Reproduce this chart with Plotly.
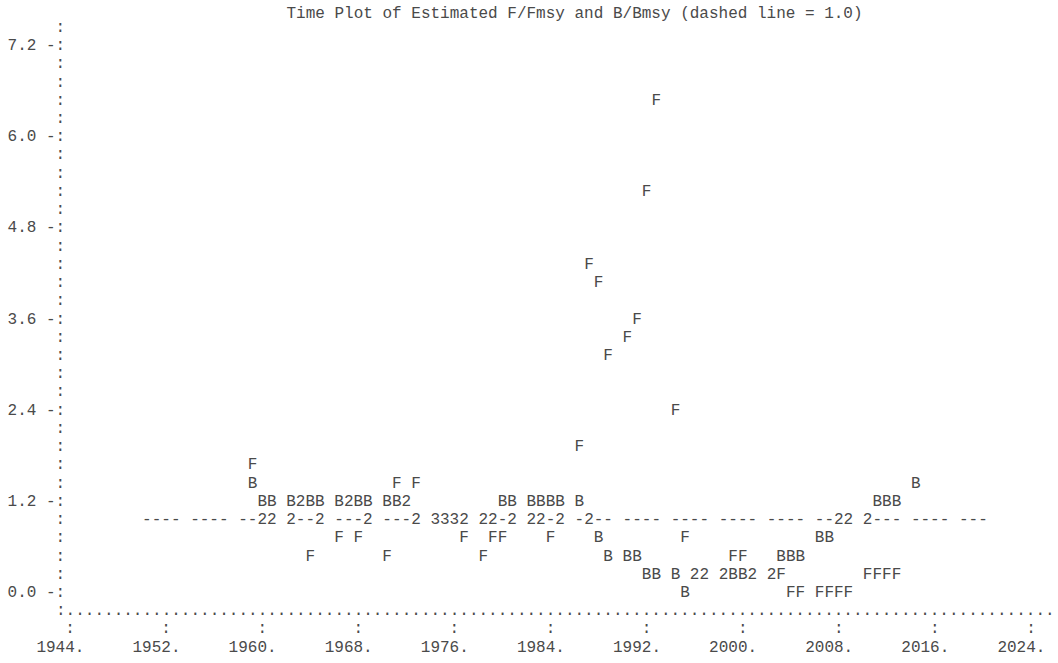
import math
import plotly.graph_objects as go

# F/Fmsy (1959-2013) and B/Bmsy (1959-2014)
f_years = list(range(1959, 2014))
f_ratio = [1.68, 0.96, 0.96, 0.96, 1.20, 0.48, 0.96, 0.72, 1.20, 0.72,
           0.96, 0.48, 1.44, 1.20, 1.44, 0.96, 0.96, 0.96, 0.72, 0.48,
           0.72, 0.72, 0.96, 0.96, 0.96, 0.72, 0.96, 1.92, 4.32, 4.08,
           3.12, 3.36, 3.60, 5.28, 6.48, 2.40, 0.72, 0.24, 0.24, 0.24,
           0.48, 0.48, 0.24, 0.24, 0.24, 0.00, 0.00, 0.00, 0.00, 0.00,
           0.00, 0.24, 0.24, 0.24, 0.24]
b_years = list(range(1959, 2015))
b_ratio = [1.44, 1.20, 1.20, 1.20, 1.20, 1.20, 1.20, 1.20, 1.20, 1.20,
           1.20, 1.20, 1.20, 1.20, 0.96, 0.96, 0.96, 0.96, 0.96, 0.96,
           0.96, 1.20, 1.20, 1.20, 1.20, 1.20, 1.20, 1.20, 0.96, 0.72,
           0.48, 0.48, 0.48, 0.24, 0.24, 0.24, 0.00, 0.24, 0.24, 0.24,
           0.24, 0.24, 0.24, 0.24, 0.48, 0.48, 0.48, 0.72, 0.72, 0.96,
           0.96, 0.96, 1.20, 1.20, 1.20, 1.44]

# dashed reference line
line_years = list(range(1950, 2021))
ref_level = 1.0

y_ticks = [0.0, 1.2, 2.4, 3.6, 4.8, 6.0, 7.2]
x_ticks = [1944, 1952, 1960, 1968, 1976, 1984, 1992, 2000, 2008, 2016, 2024]

title = "Time Plot of Estimated F/Fmsy and B/Bmsy (dashed line = 1.0)"

# character grid of the text plot
YEAR0 = 1944
COLS_PER_YEAR = 1.25
ROW = 0.24
CW, RH = 9.61, 18.23      # px per column / row
X0, Y0 = 70, 593          # px of column 0 / row 0
W, H = 1058, 663

FONT = dict(family="Courier New, Liberation Mono, monospace", size=16, color="#4a4a4a")


def col_of(year):
    return math.floor((year - YEAR0) * COLS_PER_YEAR + 0.5)


def row_of(v):
    return math.floor(v / ROW + 0.5)


def x_of(col):
    return YEAR0 + col / COLS_PER_YEAR


def y_of(row):
    return row * ROW


# put every symbol into its cell, overlaps shown as a count
cells = {}
for yr in line_years:
    cells.setdefault((col_of(yr), row_of(ref_level)), []).append("-")
for yr, v in zip(f_years, f_ratio):
    cells.setdefault((col_of(yr), row_of(v)), []).append("F")
for yr, v in zip(b_years, b_ratio):
    cells.setdefault((col_of(yr), row_of(v)), []).append("B")

dx, dy, dt = [], [], []
for (c, r), syms in cells.items():
    dx.append(x_of(c))
    dy.append(y_of(r))
    dt.append(syms[0] if len(syms) == 1 else str(len(syms)))

fig = go.Figure()


def add_text(xs, ys, texts):
    fig.add_trace(go.Scatter(x=xs, y=ys, text=texts, mode="text",
                             textposition="middle center", textfont=FONT,
                             cliponaxis=False, hoverinfo="skip"))


add_text(dx, dy, dt)

# left axis: colon column plus tick labels
tick_rows = {row_of(v) for v in y_ticks}
axis_rows = [r for r in range(1, 32) if r not in tick_rows]
add_text([x_of(-1)] * len(axis_rows), [y_of(r) for r in axis_rows], [":"] * len(axis_rows))
add_text([x_of(-3.5)] * len(y_ticks), [y_of(row_of(v)) for v in y_ticks],
         [f"{v:.1f} -:" for v in y_ticks])

# bottom axis: dotted rule, tick marks and year labels
add_text([x_of(50.5)], [y_of(-1)], [":" + "." * 103])
add_text([x_of(col_of(t)) for t in x_ticks], [y_of(-2)] * len(x_ticks), [":"] * len(x_ticks))
add_text([x_of(col_of(t) - 1) for t in x_ticks], [y_of(-3)] * len(x_ticks),
         [f"{t}." for t in x_ticks])

px_year = CW * COLS_PER_YEAR
x_lo = YEAR0 - X0 / px_year
x_hi = x_lo + W / px_year
y_hi = Y0 / RH * ROW
y_lo = y_hi - H / RH * ROW

fig.update_layout(
    width=W,
    height=H,
    margin=dict(l=0, r=0, t=0, b=0),
    paper_bgcolor="white",
    plot_bgcolor="white",
    showlegend=False,
    title=dict(text=title, font=FONT, x=(X0 + 52.5 * CW) / W,
               xanchor="center", y=1 - 12.5 / H, yanchor="middle"),
    xaxis=dict(range=[x_lo, x_hi], visible=False, fixedrange=True),
    yaxis=dict(range=[y_lo, y_hi], visible=False, fixedrange=True),
)

# drop the default page margin so the figure sits at the window corner
fig.write_html("out.html", config={"displayModeBar": False},
               post_script="document.body.style.margin = '0';")
